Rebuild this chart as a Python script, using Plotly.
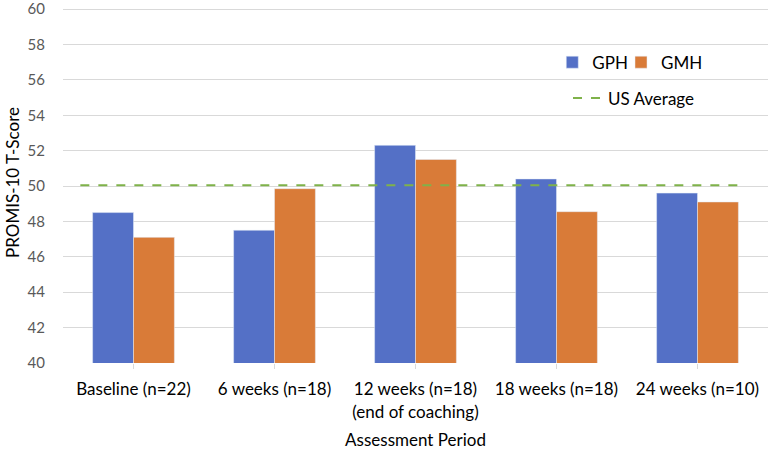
import plotly.graph_objects as go

categories = ["Baseline (n=22)", "6 weeks (n=18)", "12 weeks (n=18)<br>(end of coaching)",
              "18 weeks (n=18)", "24 weeks (n=10)"]
gph = [48.5, 47.5, 52.3, 50.4, 49.6]
gmh = [47.1, 49.85, 51.5, 48.55, 49.1]
us_average = 50.05
y_ticks = [40, 42, 44, 46, 48, 50, 52, 54, 56, 58, 60]

BLUE = "#5470C6"
ORANGE = "#D97B38"
GREEN = "#7FB24A"
FONT = "Lato"

xpos = list(range(len(categories)))

fig = go.Figure()
fig.add_trace(go.Bar(x=xpos, y=gph, name="GPH", marker_color=BLUE,
                     legend="legend", showlegend=True))
fig.add_trace(go.Bar(x=xpos, y=gmh, name="GMH", marker_color=ORANGE,
                     legend="legend3", showlegend=True))
fig.add_trace(go.Scatter(x=[xpos[0] - 0.377, xpos[-1] + 0.336], y=[us_average, us_average],
                         mode="lines", name="US Average", showlegend=True,
                         line=dict(color=GREEN, width=2, dash="dash"), legend="legend2"))

legend_font = dict(family=FONT, size=17, color="#000000")
fig.update_layout(
    width=771, height=450,
    showlegend=True,
    margin=dict(l=63, r=3, t=2, b=87),
    plot_bgcolor="white", paper_bgcolor="white",
    barmode="group", bargap=0.42, bargroupgap=0,
    font=dict(family=FONT, size=17, color="#000000"),
    xaxis=dict(
        range=[-0.5, 4.5], tickmode="array", tickvals=xpos, ticktext=categories,
        showgrid=False, zeroline=False, showline=False, automargin=False,
        ticks="outside", ticklen=5, tickcolor="#D9D9D9",
        ticklabelstandoff=6, ticklabeloverflow="allow",
        tickfont=dict(family=FONT, size=17, color="#000000"),
        title=dict(text="Assessment Period", font=dict(family=FONT, size=17, color="#000000"), standoff=16),
    ),
    yaxis=dict(
        range=[40, 60.4], tickvals=y_ticks, showgrid=True, gridcolor="#D9D9D9", gridwidth=1,
        zeroline=False, showline=False, ticks="", automargin=False,
        tickfont=dict(family=FONT, size=15, color="#595959"),
        ticklabelstandoff=17, ticklabeloverflow="allow",
        title=dict(text="PROMIS-10 T-Score", font=dict(family=FONT, size=17, color="#000000"), standoff=3),
    ),
    legend=dict(orientation="h", x=0.694, y=0.832, xanchor="left", yanchor="middle",
                font=legend_font, bgcolor="rgba(0,0,0,0)", itemwidth=30),
    legend3=dict(orientation="h", x=0.7915, y=0.832, xanchor="left", yanchor="middle",
                 font=legend_font, bgcolor="rgba(0,0,0,0)", itemwidth=30),
    legend2=dict(orientation="h", x=0.7163, y=0.733, xanchor="left", yanchor="middle",
                 font=legend_font, bgcolor="rgba(0,0,0,0)", itemwidth=30),
)

fig.write_html("out.html", config={"displayModeBar": False},
               post_script="document.body.style.margin='0';")
